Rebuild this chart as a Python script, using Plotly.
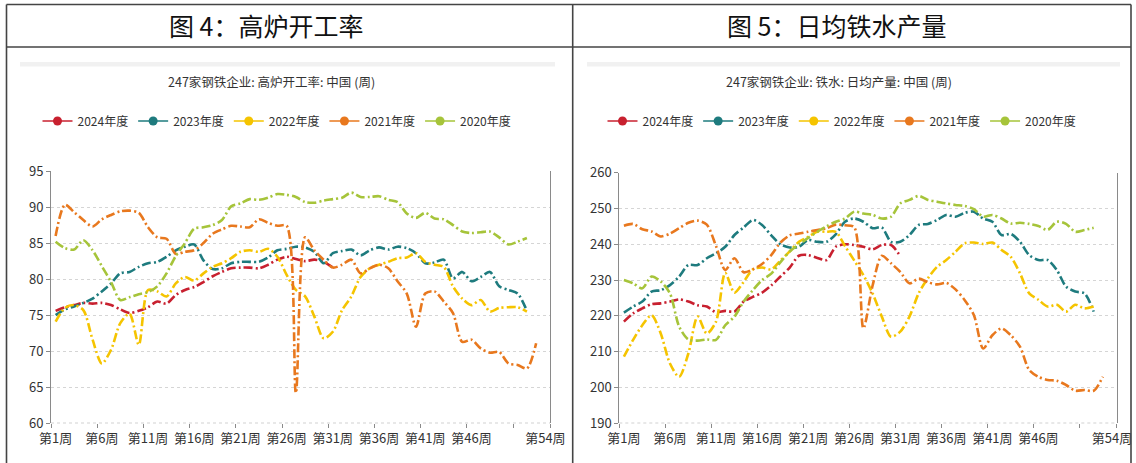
import plotly.graph_objects as go

# ---------------- data ----------------
weeks = list(range(1, 55))
tick_weeks = [1, 6, 11, 16, 21, 26, 31, 36, 41, 46, 54]
tick_text = ["第1周", "第6周", "第11周", "第16周", "第21周", "第26周",
             "第31周", "第36周", "第41周", "第46周", "第54周"]
band_edges = [0.5, 5.5, 10.5, 15.5, 20.5, 25.5, 30.5, 35.5, 40.5, 45.5, 50.5, 54.5]

series_names = ["2024年度", "2023年度", "2022年度", "2021年度", "2020年度"]
series_colors = ["#C8202F", "#1E7B7E", "#F5C400", "#E8781E", "#A6C43A"]

# 图4 高炉开工率 (%)
bf_2024 = [75.6, 76.1, 76.4, 76.7, 76.6, 76.7, 76.4, 75.8, 75.3, 75.6, 76.1, 76.9, 76.6,
           77.8, 78.5, 78.9, 79.6, 80.4, 81.0, 81.5, 81.6, 81.6, 81.5, 82.0, 82.7, 83.1,
           82.8, 82.5, 82.7, 82.4, 81.6]
bf_2023 = [75.0, 75.8, 76.2, 76.7, 77.3, 78.3, 79.4, 80.8, 81.0, 81.7, 82.2, 82.4, 83.1,
           84.0, 84.5, 84.8, 82.6, 81.4, 81.5, 82.2, 82.4, 82.4, 82.4, 83.0, 84.0, 84.2,
           84.5, 84.4, 83.8, 82.2, 83.6, 83.9, 84.1, 83.3, 84.0, 84.4, 84.1, 84.5, 84.3,
           83.6, 82.2, 82.3, 82.7, 80.1, 81.0, 79.7, 80.3, 81.0, 79.0, 78.5, 78.0, 75.6]
bf_2022 = [74.1, 76.0, 76.4, 75.7, 71.6, 68.3, 70.2, 73.9, 75.2, 70.9, 78.5, 78.3, 77.6,
           79.4, 80.3, 79.8, 80.8, 81.7, 82.2, 82.9, 83.8, 84.0, 83.8, 84.2, 83.1, 80.6,
           78.5, 77.6, 74.8, 71.8, 72.7, 75.7, 77.6, 80.3, 81.5, 82.0, 82.4, 82.9, 83.0,
           83.6, 82.4, 82.0, 81.7, 79.0, 77.3, 76.4, 77.1, 75.5, 76.0, 76.1, 76.1, 75.5]
bf_2021 = [86.0, 90.3, 89.3, 88.2, 87.3, 88.3, 88.9, 89.4, 89.5, 89.2, 87.2, 85.8, 85.6,
           83.5, 83.8, 84.0, 85.0, 86.3, 86.9, 87.4, 87.3, 87.2, 88.3, 87.8, 87.4, 87.4,
           64.2, 85.8, 84.0, 82.7, 81.6, 82.0, 82.7, 80.8, 81.5, 82.0, 81.5, 79.7, 78.0,
           73.4, 78.0, 78.3, 76.9, 75.3, 71.3, 71.6, 70.4, 69.8, 69.9, 68.3, 68.1, 67.6, 71.1]
bf_2020 = [85.2, 84.3, 84.1, 85.4, 84.0, 81.8, 79.6, 77.1, 77.5, 77.9, 78.2, 79.0, 80.8,
           83.2, 85.0, 87.0, 87.2, 87.5, 88.2, 90.1, 90.5, 91.1, 91.0, 91.3, 91.8, 91.7,
           91.4, 90.7, 90.6, 90.9, 91.1, 91.3, 92.0, 91.4, 91.4, 91.5, 91.0, 90.7, 89.1,
           88.5, 89.2, 88.4, 88.3, 87.5, 86.6, 86.4, 86.5, 86.6, 85.8, 84.8, 85.2, 85.7]

# 图5 日均铁水产量 (万吨)
hm_2024 = [218.4, 220.7, 222.1, 223.3, 223.5, 224.0, 224.6, 224.0, 223.0, 222.6, 221.0,
           221.4, 221.2, 224.0, 225.3, 226.5, 228.5, 231.0, 233.5, 236.8, 237.0, 236.2,
           235.6, 239.3, 240.0, 239.8, 239.3, 238.6, 239.8, 239.8, 236.7]
hm_2023 = [220.9, 222.6, 224.0, 226.8, 227.2, 228.6, 231.0, 234.2, 234.2, 236.1, 237.5,
           239.3, 242.6, 244.7, 246.8, 245.4, 242.5, 240.0, 239.1, 239.3, 241.2, 240.7,
           240.7, 242.8, 246.3, 247.2, 246.3, 244.5, 244.7, 240.7, 240.7, 242.6, 245.4,
           245.7, 246.8, 248.2, 247.7, 248.8, 249.1, 247.2, 246.3, 242.6, 242.9, 240.7,
           237.0, 235.6, 235.6, 232.8, 228.2, 226.8, 226.3, 221.2]
hm_2022 = [208.6, 213.3, 217.4, 220.2, 215.1, 206.7, 203.0, 209.5, 219.8, 215.1, 218.4,
           232.0, 226.5, 229.5, 233.0, 233.5, 233.0, 235.5, 238.0, 240.7, 242.1, 243.5,
           243.5, 243.5, 239.5, 235.5, 231.4, 226.3, 219.8, 214.2, 215.6, 219.8, 226.3,
           230.5, 233.7, 235.6, 237.9, 240.3, 240.5, 240.1, 240.5, 238.4, 236.5, 231.9,
           226.3, 224.5, 222.6, 223.1, 221.2, 223.1, 222.1, 222.6]
hm_2021 = [245.2, 245.7, 244.2, 243.6, 242.2, 243.0, 244.5, 246.0, 246.6, 245.5, 239.5,
           232.8, 236.1, 232.2, 233.0, 234.5, 237.0, 240.5, 242.5, 243.0, 243.5, 244.0,
           244.5, 245.5, 245.3, 244.8, 216.5, 228.5, 236.8, 234.7, 232.3, 229.1, 230.4,
           229.4, 228.8, 229.2, 227.4, 224.4, 220.2, 210.9, 214.6, 216.5, 214.6, 211.4,
           204.9, 203.0, 202.1, 201.9, 200.7, 199.1, 199.3, 199.1, 203.0]
hm_2020 = [230.0, 229.1, 227.7, 231.0, 229.6, 226.3, 217.0, 213.4, 213.1, 213.4, 213.3,
           217.4, 219.8, 224.0, 227.2, 230.0, 231.8, 235.0, 238.0, 240.0, 241.8, 243.5,
           245.0, 246.3, 247.2, 249.1, 248.6, 248.2, 247.2, 247.7, 251.4, 252.4, 253.5,
           252.4, 251.9, 251.4, 251.0, 250.7, 249.8, 247.7, 248.2, 247.2, 245.8, 246.0,
           245.7, 245.1, 244.0, 246.3, 245.7, 243.5, 244.0, 244.6]

left_values = [bf_2024, bf_2023, bf_2022, bf_2021, bf_2020]
right_values = [hm_2024, hm_2023, hm_2022, hm_2021, hm_2020]

# ---------------- figure ----------------
W, H = 1136, 463
CJK = "Noto Sans CJK SC, sans-serif"
TICKF = "Liberation Sans Narrow, Noto Sans CJK SC, sans-serif"
DASH = "9px,3px,2px,3px"

fig = go.Figure()


def add_panel(values, xa, ya, legend_id):
    for name, color, vals in zip(series_names, series_colors, values):
        fig.add_trace(go.Scatter(
            x=weeks[:len(vals)], y=vals, mode="lines",
            line=dict(color=color, width=2.6, dash=DASH, shape="spline", smoothing=0.8),
            xaxis=xa, yaxis=ya, showlegend=False, hoverinfo="skip"))
    for name, color in zip(series_names, series_colors):
        fig.add_trace(go.Scatter(
            x=[None], y=[None], mode="lines+markers", name=name,
            line=dict(color=color, width=1.5), marker=dict(size=9, color=color),
            xaxis=xa, yaxis=ya, legend=legend_id, showlegend=True))


add_panel(left_values, "x", "y", "legend")
add_panel(right_values, "x2", "y2", "legend2")


def px_x(v):
    return v / W


def px_y(v):
    return 1 - v / H


xcommon = dict(range=[0.5, 54.5], tickmode="array", tickvals=tick_weeks, ticktext=tick_text,
               ticks="", showgrid=False, zeroline=False, showline=False, automargin=False,
               ticklabelstandoff=6,
               tickfont=dict(family=TICKF, size=13, color="#333"),
               minor=dict(tickmode="array", tickvals=band_edges, ticks="outside",
                          ticklen=4, tickcolor="#8a8a8a", showgrid=False),
               fixedrange=True)
ycommon = dict(showgrid=True, gridcolor="#d5d5d5", griddash="dot", gridwidth=1,
               zeroline=False, showline=True, linecolor="#8a8a8a", linewidth=1, mirror=True,
               ticks="outside", ticklen=4, tickcolor="#8a8a8a", automargin=False,
               tickfont=dict(family=TICKF, size=13, color="#333"), fixedrange=True)

fig.update_layout(
    width=W, height=H, margin=dict(l=0, r=0, t=0, b=0, autoexpand=False),
    paper_bgcolor="white", plot_bgcolor="white",
    xaxis=dict(domain=[px_x(51), px_x(550)], anchor="y", **xcommon),
    yaxis=dict(domain=[px_y(423.3), px_y(171)], anchor="x", range=[60, 95], dtick=5, **ycommon),
    xaxis2=dict(domain=[px_x(619.3), px_x(1116.7)], anchor="y2", **xcommon),
    yaxis2=dict(domain=[px_y(423.3), px_y(172.7)], anchor="x2", range=[190, 260], dtick=10, **ycommon),
    legend=dict(orientation="h", x=px_x(277), xanchor="center", y=px_y(121), yanchor="middle",
                font=dict(family=CJK, size=12, color="#333"), bgcolor="rgba(0,0,0,0)",
                traceorder="normal"),
    legend2=dict(orientation="h", x=px_x(842), xanchor="center", y=px_y(121), yanchor="middle",
                 font=dict(family=CJK, size=12, color="#333"), bgcolor="rgba(0,0,0,0)",
                 traceorder="normal"),
    showlegend=True,
)

# titles
annotations = [
    dict(text="图 4：高炉开工率", x=px_x(266), y=px_y(25)),
    dict(text="图 5：日均铁水产量", x=px_x(836), y=px_y(25)),
]
for a in annotations:
    fig.add_annotation(xref="paper", yref="paper", xanchor="center", yanchor="middle",
                       showarrow=False, font=dict(family=CJK, size=25, color="#111"), **a)
for txt, cx in [("247家钢铁企业: 高炉开工率: 中国 (周)", 271),
                ("247家钢铁企业: 铁水: 日均产量: 中国 (周)", 839)]:
    fig.add_annotation(xref="paper", yref="paper", x=px_x(cx), y=px_y(81), xanchor="center",
                       yanchor="middle", showarrow=False, text=txt,
                       font=dict(family=CJK, size=12.5, color="#333"))

# frame / table borders
border = dict(color="#444", width=1.6)
frame_lines = [
    (6.5, 4.5, 1131, 4.5), (6.5, 47, 1131, 47), (6.5, 4.5, 6.5, 463),
    (572.7, 4.5, 572.7, 463), (1131, 4.5, 1131, 463),
]
for x0, y0, x1, y1 in frame_lines:
    fig.add_shape(type="line", xref="paper", yref="paper", x0=px_x(x0), y0=px_y(y0),
                  x1=px_x(x1), y1=px_y(y1), line=border)

# faint toolbar strips
for x0, x1 in [(20, 555), (587, 1120)]:
    fig.add_shape(type="rect", xref="paper", yref="paper", x0=px_x(x0), x1=px_x(x1),
                  y0=px_y(66.5), y1=px_y(62), line=dict(width=0), fillcolor="#f1f1f1")

# dotted x-axis lines
fig.add_shape(type="line", xref="x domain", yref="y", x0=0, x1=1, y0=60, y1=60,
              line=dict(color="#8a8a8a", width=1, dash="dot"))
fig.add_shape(type="line", xref="x2 domain", yref="y2", x0=0, x1=1, y0=190, y1=190,
              line=dict(color="#8a8a8a", width=1, dash="dot"))

fig.write_html("out.html", config={"displayModeBar": False},
               post_script="document.body.style.margin='0';document.body.style.overflow='hidden';")
